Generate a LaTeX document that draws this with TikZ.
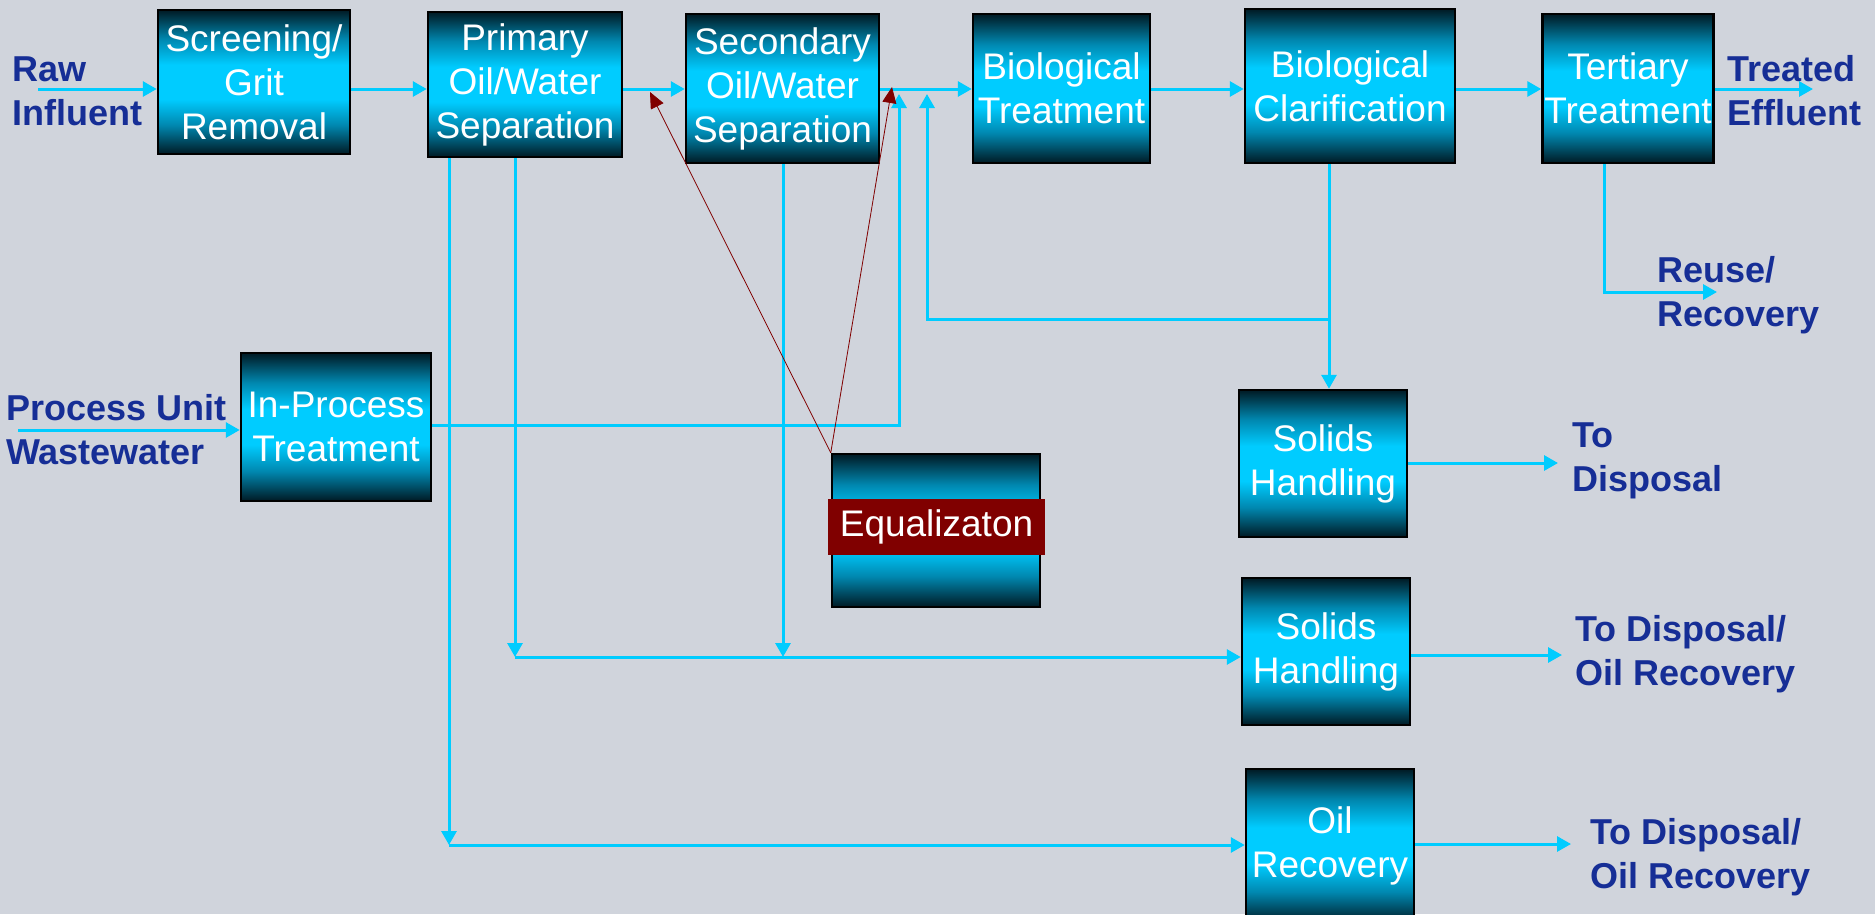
\documentclass[tikz,border=0pt]{standalone}
\usepackage{fontspec}
\setmainfont{Liberation Sans}
\usetikzlibrary{arrows.meta}
\definecolor{bgcol}{RGB}{208,212,220}
\definecolor{boxdark}{RGB}{0,26,36}
\definecolor{boxteal}{RGB}{0,135,175}
\definecolor{boxcyan}{RGB}{0,204,255}
\definecolor{flowcol}{RGB}{0,204,255}
\definecolor{eqred}{RGB}{128,0,0}
\definecolor{lblblue}{RGB}{22,46,150}
\pgfdeclareverticalshading{boxshade}{100bp}{color(0bp)=(boxdark); color(25bp)=(boxdark); color(35bp)=(boxteal); color(44bp)=(boxcyan); color(56bp)=(boxcyan); color(65bp)=(boxteal); color(75bp)=(boxdark); color(100bp)=(boxdark)}
\tikzset{
  unit/.style={draw=black, line width=2.5pt, shade, shading=boxshade, inner sep=0pt,
    align=center, text=white, font=\fontsize{37}{44}\selectfont},
  lbl/.style={anchor=west, inner sep=0pt, align=left, text=lblblue,
    font=\fontsize{36}{44}\selectfont\bfseries},
  flow/.style={draw=flowcol, line width=3pt, -{Triangle[width=15pt,length=14pt]}},
  feed/.style={draw=eqred, line width=0.8pt, -{Triangle[width=14pt,length=16pt]}}
}
\begin{document}
\begin{tikzpicture}[x=1pt,y=-1pt]
      \fill[bgcol] (0,0) rectangle (1875,914);
      \useasboundingbox (0,0) rectangle (1875,914);
      \node[unit, minimum width=192, minimum height=144] (scr) at (254,82) {Screening/\\Grit\\Removal};
      \node[unit, minimum width=194, minimum height=145] (pri) at (525,84.5) {Primary\\Oil/Water\\Separation};
      \node[unit, minimum width=193, minimum height=149] (sec) at (782.5,88.5) {Secondary\\Oil/Water\\Separation};
      \node[unit, minimum width=177, minimum height=149] (bt) at (1061.5,88.5) {Biological\\Treatment};
      \node[unit, minimum width=210, minimum height=154] (bc) at (1350,86) {Biological\\Clarification};
      \node[unit, minimum width=171, minimum height=149] (ter) at (1628,88.5) {Tertiary\\Treatment};
      \node[unit, minimum width=190, minimum height=148] (inp) at (336,427) {In-Process\\Treatment};
      \node[unit, minimum width=208, minimum height=153] (eq) at (936,530.5) {};
      \node[fill=eqred, inner sep=0pt, minimum width=217, minimum height=56, text=white,
        font=\fontsize{37}{44}\selectfont] (eqband) at (936.5,527) {Equalizaton};
      \node[unit, minimum width=168, minimum height=147] (sol1) at (1323,463.5) {Solids\\Handling};
      \node[unit, minimum width=168, minimum height=147] (sol2) at (1326,651.5) {Solids\\Handling};
      \node[unit, minimum width=168, minimum height=154] (oil) at (1330,846) {Oil\\Recovery};
      \node[lbl] (raw) at (12,91) {Raw\\Influent};
      \node[lbl] (eff) at (1727,91) {Treated\\Effluent};
      \node[lbl] (reu) at (1657,295) {Reuse/\\Recovery};
      \node[lbl] (proc) at (6,430) {Process Unit\\Wastewater};
      \node[lbl] (disp1) at (1572,461) {To\\Disposal};
      \node[lbl] (disp2) at (1575,654) {To Disposal/\\Oil Recovery};
      \node[lbl] (disp3) at (1590,857) {To Disposal/\\Oil Recovery};
      \coordinate (fy) at (0,89);
      \coordinate (tipy) at (0,94);
      \coordinate (rawin) at (38,89);
      \coordinate (effout) at (1813,89);
      \coordinate (terx) at (1604,292);
      \coordinate (reuout) at (1717,292);
      \coordinate (clarx) at (1329,319);
      \coordinate (recyc) at (927,319);
      \coordinate (inpx) at (899,425);
      \coordinate (procin) at (18,430);
      \coordinate (oilx) at (449,845);
      \coordinate (solx) at (515,657);
      \coordinate (secx) at (783,657);
      \coordinate (out1) at (1558,463);
      \coordinate (out2) at (1562,655);
      \coordinate (out3) at (1571,844);
      \coordinate (fb1) at (650,92);
      \coordinate (fb2) at (892,87);
      \begin{scope}[flow]
        \draw (rawin) -- (scr.west |- fy);
        \draw (scr.east |- fy) -- (pri.west |- fy);
        \draw (pri.east |- fy) -- (sec.west |- fy);
        \draw (sec.east |- fy) -- (bt.west |- fy);
        \draw (bt.east |- fy) -- (bc.west |- fy);
        \draw (bc.east |- fy) -- (ter.west |- fy);
        \draw (ter.east |- fy) -- (effout);
        \draw (terx |- ter.south) -- (terx) -- (reuout);
        \draw (clarx |- bc.south) -- (clarx |- sol1.north);
        \draw (clarx) -- (recyc) -- (recyc |- tipy);
        \draw (procin) -- (inp.west |- procin);
        \draw (inp.east |- inpx) -- (inpx) -- (inpx |- tipy);
        \draw (oilx |- pri.south) -- (oilx);
        \draw (oilx) -- (oil.west |- oilx);
        \draw (solx |- pri.south) -- (solx);
        \draw (solx) -- (sol2.west |- solx);
        \draw (secx |- sec.south) -- (secx);
        \draw (sol1.east |- out1) -- (out1);
        \draw (sol2.east |- out2) -- (out2);
        \draw (oil.east |- out3) -- (out3);
      \end{scope}
      \draw[feed] (eq.north west) -- (fb1);
      \draw[feed] (eq.north west) -- (fb2);
    \end{tikzpicture}
\end{document}
